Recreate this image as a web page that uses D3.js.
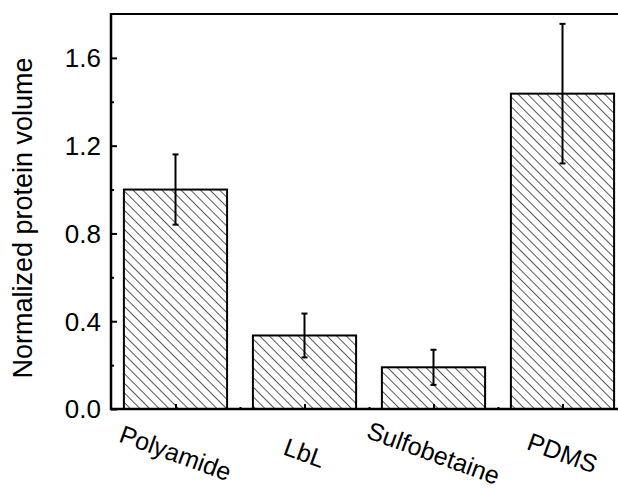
<!DOCTYPE html>
<html>
<head>
<meta charset="utf-8">
<script src="https://cdn.jsdelivr.net/npm/d3@7"></script>
<style>
body { margin: 0; background: #fff; }
text { font-family: Arial, "Liberation Sans", sans-serif; fill: #000; }
</style>
</head>
<body>
<svg width="618" height="489"></svg>
<script>
var categories = ["Polyamide", "LbL", "Sulfobetaine", "PDMS"],
	values = [1.0, 0.335, 0.19, 1.437],
	errors = [0.16, 0.1, 0.08, 0.318],
	yTicks = [0.0, 0.4, 0.8, 1.2, 1.6],
	yMinor = [0.2, 0.6, 1.0, 1.4];

var svg = d3.select("svg"),
	x = d3.scaleLinear().domain([0.5, 4.5]).range([111, 627]),
	y = d3.scaleLinear().domain([0, 1.8]).range([409, 14]),
	barW = x(1.8) - x(1);

// hatch fill
svg.append("defs").append("pattern")
	.attr("id", "hatch")
	.attr("patternUnits", "userSpaceOnUse")
	.attr("width", 6.8)
	.attr("height", 6.8)
	.attr("patternTransform", "rotate(-45)")
	.append("line")
	.attr("x1", 0).attr("y1", 0)
	.attr("x2", 0).attr("y2", 6.8)
	.attr("stroke", "#000")
	.attr("stroke-width", 1.3);

var data = categories.map(function(c, i){
	return {name: c, pos: i + 1, value: values[i], err: errors[i]};
});

// bars
svg.selectAll(".bar")
	.data(data)
	.enter().append("rect")
	.attr("class", "bar")
	.attr("x", function(d){ return x(d.pos) - barW/2 })
	.attr("y", function(d){ return y(d.value) })
	.attr("width", barW)
	.attr("height", function(d){ return y(0) - y(d.value) })
	.attr("fill", "url(#hatch)")
	.attr("stroke", "#000")
	.attr("stroke-width", 2);

// error bars
var eb = svg.selectAll(".err")
	.data(data)
	.enter().append("g")
	.attr("class", "err")
	.attr("stroke", "#000")
	.attr("stroke-width", 2);
eb.append("line")
	.attr("x1", function(d){ return x(d.pos) })
	.attr("x2", function(d){ return x(d.pos) })
	.attr("y1", function(d){ return y(d.value + d.err) })
	.attr("y2", function(d){ return y(d.value - d.err) });
[1, -1].forEach(function(s){
	eb.append("line")
		.attr("x1", function(d){ return x(d.pos) - 3 })
		.attr("x2", function(d){ return x(d.pos) + 3 })
		.attr("y1", function(d){ return y(d.value + s*d.err) })
		.attr("y2", function(d){ return y(d.value + s*d.err) });
});

// y axis ticks (inward)
svg.append("g")
	.attr("transform", "translate(" + x(0.5) + ",0)")
	.call(d3.axisRight(y).tickValues(yTicks).tickSize(6).tickFormat(""));
svg.append("g")
	.attr("transform", "translate(" + x(0.5) + ",0)")
	.call(d3.axisRight(y).tickValues(yMinor).tickSize(3).tickFormat(""));
svg.selectAll(".domain").remove();

svg.selectAll(".ylab")
	.data(yTicks)
	.enter().append("text")
	.attr("x", x(0.5) - 10)
	.attr("y", function(d){ return y(d) })
	.attr("dy", "0.36em")
	.attr("text-anchor", "end")
	.style("font-size", "26px")
	.text(function(d){ return d.toFixed(1) });

// x axis ticks
var xMajor = data.map(function(d){ return d.pos }),
	xMinor = [1.5, 2.5, 3.5];
svg.append("g")
	.attr("transform", "translate(0," + y(0) + ")")
	.call(d3.axisTop(x).tickValues(xMajor).tickSize(5).tickFormat(""))
	.call(function(g){ g.select(".domain").remove() });
svg.append("g")
	.attr("transform", "translate(0," + y(0) + ")")
	.call(d3.axisTop(x).tickValues(xMinor).tickSize(2).tickFormat(""))
	.call(function(g){ g.select(".domain").remove() });
svg.selectAll(".tick line").attr("stroke-width", 2);

// frame lines
svg.append("line")
	.attr("x1", x(0.5)).attr("x2", 618)
	.attr("y1", y(0)).attr("y2", y(0))
	.attr("stroke", "#000").attr("stroke-width", 2.5);
svg.append("line")
	.attr("x1", x(0.5)).attr("x2", 618)
	.attr("y1", y(1.8)).attr("y2", y(1.8))
	.attr("stroke", "#000").attr("stroke-width", 2);
svg.append("line")
	.attr("x1", x(0.5)).attr("x2", x(0.5))
	.attr("y1", y(1.8) - 1).attr("y2", y(0) + 1.25)
	.attr("stroke", "#000").attr("stroke-width", 2.5);

// category labels
svg.selectAll(".xlab")
	.data(data)
	.enter().append("text")
	.attr("text-anchor", "middle")
	.attr("dy", "0.35em")
	.attr("transform", function(d){ return "translate(" + x(d.pos) + ",453) rotate(20)" })
	.style("font-size", "25px")
	.text(function(d){ return d.name });

// y title
svg.append("text")
	.attr("transform", "translate(32,218) rotate(-90)")
	.attr("text-anchor", "middle")
	.style("font-size", "27px")
	.text("Normalized protein volume");
</script>
</body>
</html>
